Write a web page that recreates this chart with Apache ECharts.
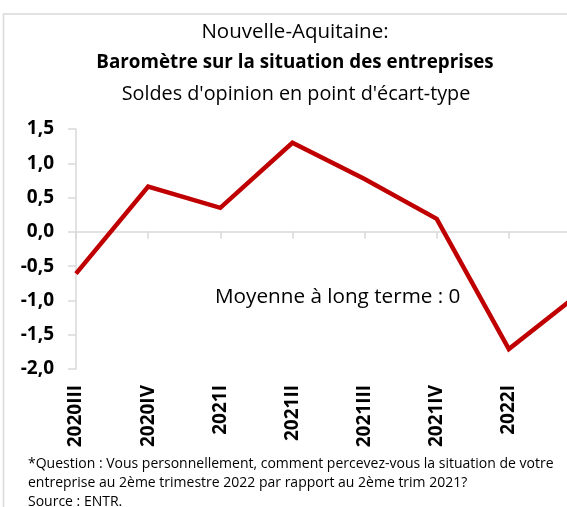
<!DOCTYPE html>
<html>
<head>
<meta charset="utf-8">
<script src="https://cdn.jsdelivr.net/npm/echarts@6/dist/echarts.min.js"></script>
<style>
html,body{margin:0;padding:0;background:#fff;overflow:hidden;width:567px;height:507px;}
#chart{width:600px;height:507px;}
</style>
</head>
<body>
<div id="chart"></div>
<script>
var categories = ['2020III','2020IV','2021I','2021II','2021III','2021IV','2022I','2022II'];
var values = [-0.61, 0.66, 0.35, 1.30, 0.77, 0.19, -1.71, -0.88];
var yTicks = { min: -2, max: 1.5, interval: 0.5 };
var titleLines = ['Nouvelle-Aquitaine:', 'Baromètre sur la situation des entreprises', "Soldes d'opinion en point d'écart-type"];
var annotation = 'Moyenne à long terme : 0';
var footnoteLines = ['*Question : Vous personnellement, comment percevez-vous la situation de votre',
  'entreprise au 2ème trimestre 2022 par rapport au 2ème trim 2021?',
  'Source : ENTR.'];

var FONT = 'Open Sans';
var chart = echarts.init(document.getElementById('chart'), null, {renderer:'canvas', width: 600, height: 507});
var option = {
  animation: false,
  backgroundColor: '#fff',
  grid: { left: 76, top: 129, width: 505, height: 240 },
  xAxis: [{
    type: 'category', data: categories, boundaryGap: false,
    axisLine: { onZero: true, lineStyle: { color: '#d9d9d9', width: 1.5 } },
    axisTick: { show: true, length: 7, lineStyle: { color: '#d9d9d9', width: 1.5 } },
    axisLabel: { show: false }, splitLine: { show: false }
  }, {
    type: 'category', data: categories, boundaryGap: false, position: 'bottom',
    axisLine: { show: false, onZero: false }, axisTick: { show: false },
    axisLabel: { rotate: 90, margin: 16, fontFamily: FONT, fontWeight: 'bold', fontSize: 19, color: '#000', interval: 0,
      formatter: function (v, i) { return i < 7 ? v : ''; } },
    splitLine: { show: false }
  }],
  yAxis: {
    type: 'value', min: yTicks.min, max: yTicks.max, interval: yTicks.interval,
    axisLine: { show: true, lineStyle: { color: '#d9d9d9', width: 1.5 } },
    axisTick: { show: true, length: 8, lineStyle: { color: '#d9d9d9', width: 1.5 } },
    splitLine: { show: false },
    axisLabel: { margin: 22, fontFamily: FONT, fontWeight: 'bold', fontSize: 19, color: '#000',
      formatter: function (v) { return v.toFixed(1).replace('.', ','); } }
  },
  series: [{
    type: 'line', data: values, xAxisIndex: 0, symbol: 'none',
    lineStyle: { color: '#c00000', width: 4.5, join: 'miter' }
  }],
  graphic: [
    { type: 'rect', shape: { x: 3.5, y: 14, width: 700, height: 700 }, style: { fill: 'none', stroke: '#d9d9d9', lineWidth: 1.5 }, z: -1 },
    { type: 'text', x: 295, y: 32, style: { text: titleLines[0], fontFamily: FONT, fontSize: 20.5, fill: '#000', textAlign: 'center', textVerticalAlign: 'middle' } },
    { type: 'text', x: 295, y: 63, style: { text: titleLines[1], fontFamily: FONT, fontWeight: 'bold', fontSize: 18.8, fill: '#000', textAlign: 'center', textVerticalAlign: 'middle' } },
    { type: 'text', x: 296, y: 94, style: { text: titleLines[2], fontFamily: FONT, fontSize: 19.8, fill: '#000', textAlign: 'center', textVerticalAlign: 'middle' } },
    { type: 'text', x: 215, y: 297, style: { text: annotation, fontFamily: FONT, fontSize: 20.7, fill: '#000', textAlign: 'left', textVerticalAlign: 'middle' } },
    { type: 'text', x: 28, y: 464, style: { text: footnoteLines[0], fontFamily: FONT, fontSize: 14, fill: '#000', textAlign: 'left', textVerticalAlign: 'middle' } },
    { type: 'text', x: 28, y: 483, style: { text: footnoteLines[1], fontFamily: FONT, fontSize: 14, fill: '#000', textAlign: 'left', textVerticalAlign: 'middle' } },
    { type: 'text', x: 28, y: 502, style: { text: footnoteLines[2], fontFamily: FONT, fontSize: 14, fill: '#000', textAlign: 'left', textVerticalAlign: 'middle' } }
  ]
};
chart.setOption(option);
</script>
</body>
</html>
